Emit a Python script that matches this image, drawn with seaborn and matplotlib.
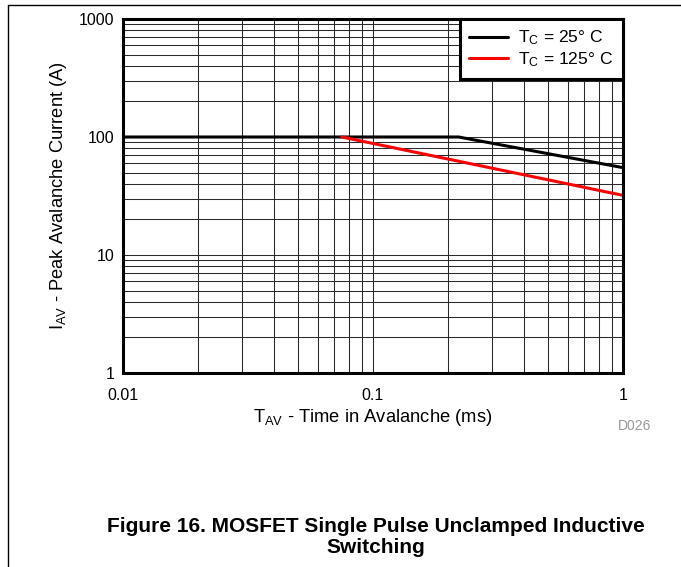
import numpy as np
import pandas as pd
import matplotlib.pyplot as plt
import matplotlib.ticker as mticker
from matplotlib.lines import Line2D
import seaborn as sns

# Avalanche curves
t_25 = [0.01, 0.22, 1.0]
i_25 = [100, 100, 55]
t_125 = [0.075, 1.0]
i_125 = [100, 32]

labels = [r'$\mathregular{T_C}$ = 25° C', r'$\mathregular{T_C}$ = 125° C']
colors = ['black', '#ff0000']

x_ticks = [0.01, 0.1, 1]
x_ticklabels = ['0.01', '0.1', '1']
y_ticks = [1, 10, 100, 1000]
y_ticklabels = ['1', '10', '100', '1000']

sns.set_theme(style="white")
plt.rcParams['font.family'] = ['Liberation Sans', 'DejaVu Sans']
plt.rcParams['mathtext.default'] = 'regular'
for k in ['text.color', 'axes.labelcolor', 'xtick.color', 'ytick.color']:
    plt.rcParams[k] = 'black'

fig = plt.figure(figsize=(6.81, 5.67), dpi=100)
ax = fig.add_axes([123 / 681, 1 - 373 / 567, 500 / 681, 354 / 567])

sns.lineplot(x=t_25, y=i_25, color=colors[0], lw=2.2, ax=ax, sort=False)
sns.lineplot(x=t_125, y=i_125, color=colors[1], lw=2.2, ax=ax, sort=False)

ax.set_xscale('log')
ax.set_yscale('log')
ax.set_xlim(0.01, 1)
ax.set_ylim(1, 1000)
ax.set_xticks(x_ticks)
ax.set_xticklabels(x_ticklabels)
ax.set_yticks(y_ticks)
ax.set_yticklabels(y_ticklabels)
ax.xaxis.set_minor_locator(mticker.LogLocator(base=10, subs=np.arange(2, 10)))
ax.yaxis.set_minor_locator(mticker.LogLocator(base=10, subs=np.arange(2, 10)))
ax.xaxis.set_minor_formatter(mticker.NullFormatter())
ax.yaxis.set_minor_formatter(mticker.NullFormatter())
ax.tick_params(which='both', length=0)
ax.tick_params(axis='x', pad=11, labelsize=11.5)
ax.tick_params(axis='y', pad=6, labelsize=11.5)
ax.grid(True, which='both', color='#2a2a2a', lw=0.75)
ax.set_axisbelow(True)
for s in ax.spines.values():
    s.set_linewidth(2.2)
    s.set_color('black')

ax.set_xlabel(r'$\mathregular{T_{AV}}$ - Time in Avalanche (ms)', fontsize=13.2, labelpad=3)
ax.set_ylabel(r'$\mathregular{I_{AV}}$ - Peak Avalanche Current (A)', fontsize=13.2, labelpad=7)

handles = [Line2D([], [], color=c, lw=2.2) for c in colors]
leg = ax.legend(handles, labels, loc='upper right', fontsize=12.6, frameon=True,
                fancybox=False, framealpha=1, borderaxespad=0, handlelength=2.2,
                handletextpad=0.6, labelspacing=0.18, borderpad=0.55)
leg.get_frame().set_edgecolor('black')
leg.get_frame().set_linewidth(2.2)

fig.text(635 / 681, 1 - 426 / 567, 'D026', color='#999999', fontsize=10,
         ha='center', va='center')
fig.text(376 / 681, 1 - 537 / 567,
         'Figure 16. MOSFET Single Pulse Unclamped Inductive\nSwitching',
         fontsize=15, fontweight='bold', ha='center', va='center', linespacing=1.15)

# page frame lines
fig.add_artist(Line2D([8 / 681, 8 / 681], [0, 1 - 5 / 567], color='black', lw=1))
fig.add_artist(Line2D([8 / 681, 1], [1 - 5 / 567, 1 - 5 / 567], color='black', lw=1))

plt.savefig('out.png', dpi=100)
